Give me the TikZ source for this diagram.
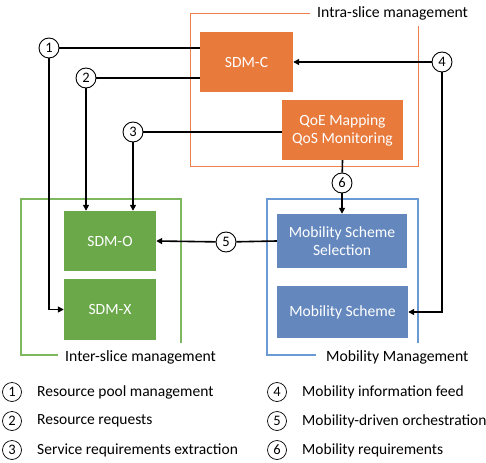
\documentclass[tikz,border=0pt]{standalone}
\usepackage{fontspec}
\setmainfont{Carlito}
\usetikzlibrary{arrows.meta}
\definecolor{orf}{HTML}{E87A3C}
\definecolor{grf}{HTML}{6AA84A}
\definecolor{blf}{HTML}{6488BE}
\definecolor{orl}{HTML}{EE8048}
\definecolor{grl}{HTML}{7DB860}
\definecolor{bll}{HTML}{6A9AD4}
\begin{document}
\begin{tikzpicture}[x=1pt,y=-1pt,
  box/.style={draw=none,minimum width=#1,inner sep=0pt,align=center,text=white,font=\fontsize{15.6}{18}\selectfont},
  num/.style={circle,draw=black,line width=0.9pt,fill=white,minimum size=20pt,inner sep=0pt,font=\fontsize{14.5}{14.5}\selectfont},
  lnum/.style={circle,draw=black,line width=0.7pt,minimum size=19pt,inner sep=0pt,font=\fontsize{14.5}{14.5}\selectfont},
  conn/.style={line width=1.6pt,draw=black},
  arr/.style={conn,-{Triangle[length=6pt,width=6pt]}},
  lab/.style={font=\fontsize{15.7}{18}\selectfont,inner sep=0pt,anchor=west},
  ltext/.style={font=\fontsize{15.5}{18}\selectfont,inner sep=0pt,anchor=west}]
\useasboundingbox[fill=white] (0,0) rectangle (486,462);
% frames
\draw[orl,line width=1pt] (310,13.5) -- (190,13.5) -- (190,167) -- (418,167) -- (418,26);
\node[lab] (lintra) at (317,13.5) {Intra-slice management};
\draw[grl,line width=1.2pt] (181,343) -- (181,199) -- (21,199) -- (21,355) -- (58,355);
\node[lab] (linter) at (65,357) {Inter-slice management};
\draw[bll,line width=1.2pt] (418,343) -- (418,199) -- (267,199) -- (267,355) -- (316,355);
\node[lab] (lmob) at (326,357) {Mobility Management};
% boxes
\node[box=93pt,fill=orf,minimum height=60pt] (sdmc) at (246.5,62) {SDM-C};
\node[box=121pt,fill=orf,minimum height=60pt] (qoe) at (342.5,130) {QoE Mapping\\QoS Monitoring};
\node[box=92pt,fill=grf,minimum height=60pt] (sdmo) at (110,241) {SDM-O};
\node[box=92pt,fill=grf,minimum height=61pt] (sdmx) at (110,309.5) {SDM-X};
\node[box=130pt,fill=blf,minimum height=54pt] (mss) at (342,241) {Mobility Scheme\\Selection};
\node[box=131pt,fill=blf,minimum height=52pt] (ms) at (342.5,312) {Mobility Scheme};
% numbered circles
\node[num] (c1) at (49,48) {1};
\node[num] (c2) at (86,78) {2};
\node[num] (c3) at (133,132) {3};
\node[num] (c4) at (442,62) {4};
\node[num] (c5) at (226,242) {5};
\node[num] (c6) at (342,183) {6};
% connectors
\draw[conn] (c1) -- (sdmc.west |- c1);
\draw[arr] (c1) |- (sdmx.west);
\draw[conn] (c2) -- (sdmc.west |- c2);
\draw[arr] (c2) -- (c2 |- sdmo.north);
\draw[conn] (c3) -- (qoe.west |- c3);
\draw[arr] (c3) -- (c3 |- sdmo.north);
\draw[arr] (c4) -- (sdmc.east);
\draw[arr] (c4) |- (ms.east);
\draw[conn] (qoe.south) -- (c6);
\draw[arr] (c6) -- (mss.north);
\draw[conn] (mss.west) -- (c5);
\draw[arr] (c5) -- (sdmo.east);
% legend
\node[lnum] (l1) at (12,392) {1};
\node[ltext] (t1) at (37,392) {Resource pool management};
\node[lnum] (l2) at (12,421) {2};
\node[ltext] (t2) at (37,421) {Resource requests};
\node[lnum] (l3) at (12,450) {3};
\node[ltext] (t3) at (37,450) {Service requirements extraction};
\node[lnum] (l4) at (277,392) {4};
\node[ltext] (t4) at (302,392) {Mobility information feed};
\node[lnum] (l5) at (277,421) {5};
\node[ltext] (t5) at (302,421) {Mobility-driven orchestration};
\node[lnum] (l6) at (277,450) {6};
\node[ltext] (t6) at (302,450) {Mobility requirements};
\end{tikzpicture}
\end{document}
